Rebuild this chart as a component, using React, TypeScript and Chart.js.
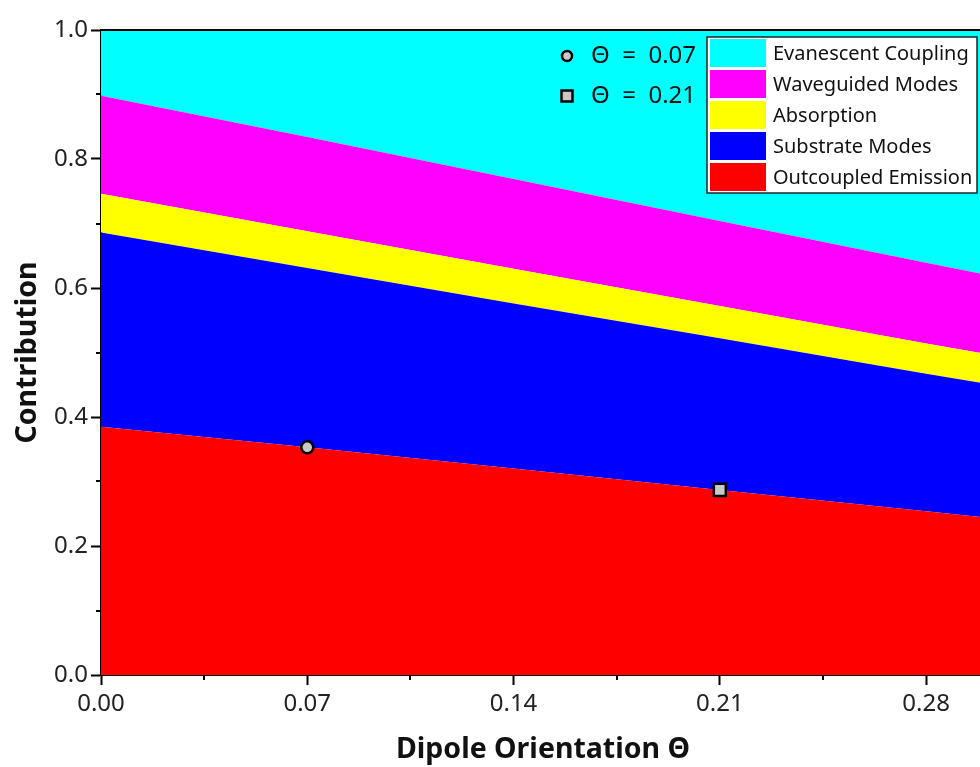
import React, { useEffect, useRef } from "react";
import { Chart, registerables } from "chart.js";

Chart.register(...registerables);

// Dipole orientation values (x) and the share of each loss channel at that orientation.
const theta = [0, 0.07, 0.14, 0.21, 0.28, 0.3];
const outcoupled = [0.385, 0.353, 0.32, 0.287, 0.254, 0.244];
const substrate = [0.301, 0.278, 0.256, 0.235, 0.213, 0.208];
const absorption = [0.06, 0.057, 0.054, 0.05, 0.047, 0.046];
const waveguided = [0.152, 0.146, 0.139, 0.132, 0.125, 0.123];
const evanescent = [0.102, 0.166, 0.231, 0.296, 0.361, 0.379];

const seriesNames = [
  "Outcoupled Emission",
  "Substrate Modes",
  "Absorption",
  "Waveguided Modes",
  "Evanescent Coupling",
];
const seriesValues = [outcoupled, substrate, absorption, waveguided, evanescent];
const seriesColors = ["#ff0000", "#0000ff", "#ffff00", "#ff00ff", "#00ffff"];

// Highlighted orientations, marked on the outcoupled-emission boundary.
const markerThetas = [0.07, 0.21];
const markerStyles = ["circle", "rect"];

const xTickStep = 0.035;
const yTickStep = 0.1;

const FONT = '"Noto Sans", "Open Sans", sans-serif';
const CANVAS_W = 1000;
const CANVAS_H = 767;

const frameAndLegend = {
  id: "frameAndLegend",
  afterDraw(chart: any) {
    const { ctx, chartArea, scales } = chart;
    ctx.save();

    // top and right frame lines
    ctx.strokeStyle = "#000";
    ctx.lineWidth = 2;
    ctx.beginPath();
    ctx.moveTo(chartArea.left, chartArea.top);
    ctx.lineTo(chartArea.right, chartArea.top);
    ctx.lineTo(chartArea.right, chartArea.bottom);
    ctx.stroke();

    // minor ticks (every other tick position)
    const xs = scales.x;
    xs.ticks.forEach((t: any, i: number) => {
      if (i % 2 === 1) {
        const px = Math.round(xs.getPixelForValue(t.value));
        ctx.beginPath();
        ctx.moveTo(px, chartArea.bottom);
        ctx.lineTo(px, chartArea.bottom + 5);
        ctx.stroke();
      }
    });
    const ys = scales.y;
    ys.ticks.forEach((t: any, i: number) => {
      if (i % 2 === 1) {
        const py = Math.round(ys.getPixelForValue(t.value));
        ctx.beginPath();
        ctx.moveTo(chartArea.left, py);
        ctx.lineTo(chartArea.left - 5, py);
        ctx.stroke();
      }
    });

    // marker key
    const keyX = 567;
    const keyRows = [56, 96];
    markerThetas.forEach((th, i) => {
      const y = keyRows[i];
      ctx.fillStyle = "#c8c8c8";
      ctx.strokeStyle = "#000";
      ctx.lineWidth = 2.5;
      ctx.beginPath();
      if (markerStyles[i] === "circle") {
        ctx.arc(keyX, y, 5, 0, Math.PI * 2);
      } else {
        ctx.rect(keyX - 5.5, y - 5.5, 11, 11);
      }
      ctx.fill();
      ctx.stroke();
      ctx.fillStyle = "#111";
      ctx.font = `24px ${FONT}`;
      ctx.textAlign = "left";
      ctx.textBaseline = "middle";
      ctx.fillText(`\u0398  =  ${th.toFixed(2)}`, 591, y);
    });

    // series legend box
    const bx = 707;
    const by = 37;
    const bw = 270;
    const bh = 156;
    ctx.fillStyle = "#fff";
    ctx.fillRect(bx, by, bw, bh);
    ctx.strokeStyle = "#222";
    ctx.lineWidth = 1.5;
    ctx.strokeRect(bx, by, bw, bh);
    const rowH = 31;
    for (let r = 0; r < 5; r++) {
      const s = 4 - r;
      const top = by + 2 + r * rowH;
      ctx.fillStyle = seriesColors[s];
      ctx.fillRect(bx + 3, top, 56, rowH - 3);
      ctx.fillStyle = "#111";
      ctx.font = `20px ${FONT}`;
      ctx.textAlign = "left";
      ctx.textBaseline = "middle";
      ctx.fillText(seriesNames[s], 773, top + (rowH - 3) / 2 + 1);
    }
    ctx.restore();
  },
};

export default function App() {
  const canvasRef = useRef<HTMLCanvasElement | null>(null);

  useEffect(() => {
    const canvas = canvasRef.current;
    if (!canvas) return;

    const areaSets = seriesValues.map((vals, i) => ({
      label: seriesNames[i],
      data: theta.map((x, k) => ({ x, y: vals[k] })),
      backgroundColor: seriesColors[i],
      borderColor: seriesColors[i],
      borderWidth: 0,
      pointRadius: 0,
      fill: i === 0 ? "origin" : "-1",
      stack: "channels",
      tension: 0,
    }));

    const markerSets = markerThetas.map((th, i) => ({
      label: `\u0398 = ${th.toFixed(2)}`,
      data: [{ x: th, y: outcoupled[theta.indexOf(th)] }],
      showLine: false,
      fill: false,
      pointStyle: markerStyles[i],
      pointRadius: markerStyles[i] === "rect" ? 8.5 : 6,
      pointBackgroundColor: "#c8c8c8",
      pointBorderColor: "#000",
      pointBorderWidth: 2.5,
      stack: `marker${i}`,
      order: -1,
    }));

    const chart = new Chart(canvas, {
      type: "line",
      data: { datasets: [...areaSets, ...markerSets] as any },
      plugins: [frameAndLegend],
      options: {
        animation: false,
        responsive: false,
        events: [],
        layout: { padding: { top: 30, right: CANVAS_W - 985, left: 0, bottom: 0 } },
        plugins: { legend: { display: false }, tooltip: { enabled: false } },
        scales: {
          x: {
            type: "linear",
            min: 0,
            max: 0.3,
            ticks: {
              stepSize: xTickStep,
              includeBounds: false,
              autoSkip: false,
              maxRotation: 0,
              padding: 5,
              color: "#222",
              font: { family: FONT, size: 24 },
              callback: (v: any, i: number) => (i % 2 === 0 ? Number(v).toFixed(2) : ""),
            },
            grid: {
              drawOnChartArea: false,
              tickLength: 10,
              tickWidth: 2,
              tickColor: (c: any) => (c.index % 2 === 0 ? "#000" : "rgba(0,0,0,0)"),
            },
            border: { display: true, color: "#000", width: 2 },
            title: {
              display: true,
              text: "Dipole Orientation \u0398",
              color: "#111",
              font: { family: FONT, size: 28.5, weight: "bold" },
              padding: { top: 0, bottom: 0 },
            },
            afterFit: (s: any) => {
              s.height = 92;
            },
          },
          y: {
            type: "linear",
            min: 0,
            max: 1,
            stacked: true,
            ticks: {
              stepSize: yTickStep,
              autoSkip: false,
              padding: 3,
              color: "#222",
              font: { family: FONT, size: 24 },
              callback: (v: any, i: number) => (i % 2 === 0 ? Number(v).toFixed(1) : ""),
            },
            grid: {
              drawOnChartArea: false,
              tickLength: 10,
              tickWidth: 2,
              tickColor: (c: any) => (c.index % 2 === 0 ? "#000" : "rgba(0,0,0,0)"),
            },
            border: { display: true, color: "#000", width: 2 },
            title: {
              display: true,
              text: "Contribution",
              color: "#111",
              font: { family: FONT, size: 28.5, weight: "bold" },
              padding: { top: 11, bottom: 0 },
            },
            afterFit: (s: any) => {
              s.width = 101;
            },
          },
        },
      } as any,
    });

    return () => chart.destroy();
  }, []);

  return (
    <div
      style={{
        position: "fixed",
        left: 0,
        top: 0,
        width: 980,
        height: 767,
        overflow: "hidden",
        background: "#fff",
      }}
    >
      <canvas
        ref={canvasRef}
        width={CANVAS_W}
        height={CANVAS_H}
        style={{ display: "block", width: CANVAS_W, height: CANVAS_H }}
      />
    </div>
  );
}
